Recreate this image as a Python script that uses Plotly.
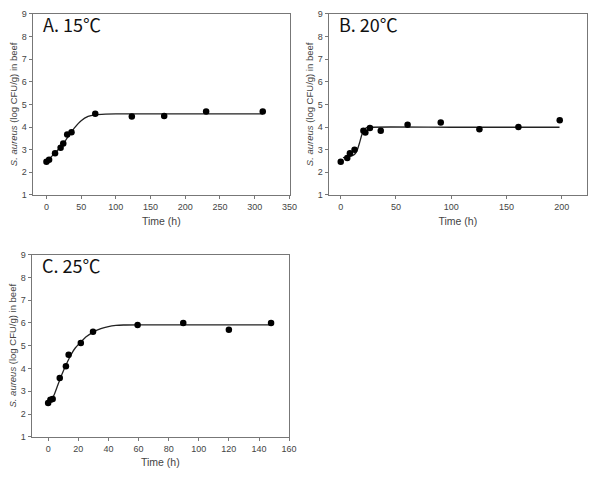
import plotly.graph_objects as go

# Panel A: 15 C
a_time = [0, 3.8, 12.4, 20.4, 24.2, 29.9, 36.1, 70.3, 123, 169.6, 230, 311.6]
a_count = [2.47, 2.56, 2.84, 3.09, 3.27, 3.67, 3.77, 4.59, 4.47, 4.49, 4.69, 4.69]
a_fit_t = [0, 10, 20, 30, 40, 50, 60, 70, 85, 100, 200, 312]
a_fit_y = [2.47, 2.78, 3.1, 3.52, 3.95, 4.28, 4.47, 4.54, 4.57, 4.58, 4.58, 4.58]

# Panel B: 20 C
b_time = [0, 5.9, 8.3, 12.5, 20.5, 22.3, 26.4, 36.2, 60.5, 90.5, 125.5, 160.8, 198.2]
b_count = [2.47, 2.63, 2.84, 3.0, 3.83, 3.76, 3.96, 3.84, 4.1, 4.2, 3.9, 4.0, 4.3]
b_fit_t = [2, 6, 10, 13, 15, 17, 19, 21, 23, 26, 100, 198]
b_fit_y = [2.65, 2.67, 2.72, 2.82, 3.0, 3.3, 3.65, 3.87, 3.96, 3.99, 3.99, 3.99]

# Panel C: 25 C
c_time = [0, 1.5, 3, 7.7, 11.8, 13.6, 21.7, 29.8, 59.4, 89.7, 120, 148]
c_count = [2.48, 2.63, 2.66, 3.58, 4.1, 4.6, 5.12, 5.61, 5.91, 6.0, 5.7, 6.0]
c_fit_t = [0, 2, 4, 6, 8, 10, 12, 14, 16, 18, 20, 22, 25, 30, 35, 40, 45, 50, 60, 100, 148]
c_fit_y = [2.5, 2.6, 2.85, 3.2, 3.55, 3.88, 4.18, 4.45, 4.7, 4.9, 5.05, 5.18, 5.38, 5.6, 5.75, 5.84, 5.89, 5.91, 5.92, 5.92, 5.92]

panel_labels = ["A. 15\u2103", "B. 20\u2103", "C. 25\u2103"]
y_ticks = [1, 2, 3, 4, 5, 6, 7, 8, 9]

W, H = 605, 479
fig = go.Figure()

panels = [
    (a_time, a_count, a_fit_t, a_fit_y, "x", "y"),
    (b_time, b_count, b_fit_t, b_fit_y, "x2", "y2"),
    (c_time, c_count, c_fit_t, c_fit_y, "x3", "y3"),
]
for t, c, ft, fy, xa, ya in panels:
    fig.add_trace(go.Scatter(x=ft, y=fy, mode="lines", xaxis=xa, yaxis=ya,
                             line=dict(color="#222", width=1.3, shape="spline", smoothing=0.6),
                             showlegend=False, hoverinfo="skip"))
    fig.add_trace(go.Scatter(x=t, y=c, mode="markers", xaxis=xa, yaxis=ya,
                             marker=dict(color="black", size=6.5),
                             showlegend=False))

def xd(l, r):
    return [l / W, r / W]

def yd(top, bot):
    return [1 - bot / H, 1 - top / H]

axis_common = dict(showline=True, linecolor="#777", linewidth=1, mirror=True,
                   ticks="outside", ticklen=3, tickcolor="#777", showgrid=False,
                   zeroline=False, tickfont=dict(family="Arial, Liberation Sans", size=9, color="#444"))

ytitle = dict(text="<i>S. aureus</i> (log CFU/g) in beef",
              font=dict(family="Arial, Liberation Sans", size=9.5, color="#444"), standoff=2)
xtitle = dict(text="Time (h)", font=dict(family="Arial, Liberation Sans", size=10.5, color="#444"), standoff=6)

layout = dict(
    width=W, height=H, margin=dict(l=0, r=0, t=0, b=0),
    plot_bgcolor="white", paper_bgcolor="white",
    xaxis=dict(domain=xd(33, 294), range=[-20, 351], tickvals=[0, 50, 100, 150, 200, 250, 300, 350],
               anchor="y", title=xtitle, **axis_common),
    yaxis=dict(domain=yd(9, 194), range=[1, 9], tickvals=y_ticks, anchor="x", title=ytitle, **axis_common),
    xaxis2=dict(domain=xd(333, 595), range=[-11, 223], tickvals=[0, 50, 100, 150, 200],
                anchor="y2", title=xtitle, **axis_common),
    yaxis2=dict(domain=yd(9, 194), range=[1, 9], tickvals=y_ticks, anchor="x2", title=ytitle, **axis_common),
    xaxis3=dict(domain=xd(32, 293), range=[-11, 160], tickvals=[0, 20, 40, 60, 80, 100, 120, 140, 160],
                anchor="y3", title=xtitle, **axis_common),
    yaxis3=dict(domain=yd(255, 441), range=[1, 9], tickvals=y_ticks, anchor="x3", title=ytitle, **axis_common),
)
fig.update_layout(**layout)

for lab, xr in zip(panel_labels, ["x", "x2", "x3"]):
    yr = xr.replace("x", "y")
    fig.add_annotation(text=lab, xref=f"{xr} domain", yref=f"{yr} domain", x=0.032, y=0.945,
                       xanchor="left", yanchor="middle", showarrow=False,
                       font=dict(family="Noto Sans CJK KR, Noto Sans", size=18, color="#111"))

fig.write_html("out.html", config={"displayModeBar": False, "staticPlot": True},
               post_script="document.body.style.margin='0';document.body.style.overflow='hidden';")
